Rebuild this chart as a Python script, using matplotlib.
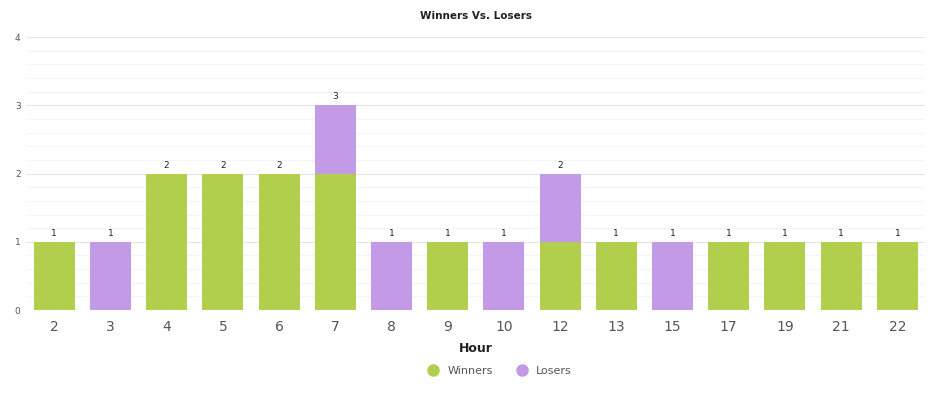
import matplotlib.pyplot as plt
import numpy as np
from matplotlib.lines import Line2D

hours = ["2", "3", "4", "5", "6", "7", "8", "9", "10", "12", "13", "15", "17", "19", "21", "22"]
winners = [1, 0, 2, 2, 2, 2, 0, 1, 0, 1, 1, 0, 1, 1, 1, 1]
losers = [0, 1, 0, 0, 0, 1, 1, 0, 1, 1, 0, 1, 0, 0, 0, 0]

green = "#b1cf4c"
purple = "#c39ae6"

fig = plt.figure(figsize=(9.32, 3.95), dpi=100)
ax = fig.add_axes([0.028, 0.215, 0.965, 0.691])

x = np.arange(len(hours))
ax.bar(x, winners, width=0.73, color=green, zorder=3)
ax.bar(x, losers, width=0.73, bottom=winners, color=purple, zorder=3)

totals = [w + l for w, l in zip(winners, losers)]
for xi, t in zip(x, totals):
    ax.text(xi, t + 0.06, str(t), ha="center", va="bottom", fontsize=6.5, color="#222222")

ax.set_xlim(-0.5, len(hours) - 0.5)
ax.set_ylim(0, 4)
ax.set_yticks([0, 1, 2, 3, 4])
ax.set_yticks(np.arange(0, 4.01, 0.2), minor=True)
ax.grid(axis="y", which="major", color="#e6e6e6", linewidth=0.8, zorder=0)
ax.grid(axis="y", which="minor", color="#f4f4f4", linewidth=0.8, zorder=0)
ax.tick_params(axis="y", which="both", length=0, labelsize=6.5, labelcolor="#555555", pad=4)
ax.tick_params(axis="x", length=0, labelsize=10, labelcolor="#555555", pad=7)
ax.set_xticks(x)
ax.set_xticklabels(hours)
for s in ax.spines.values():
    s.set_visible(False)

ax.set_xlabel("Hour", fontsize=9, fontweight="bold", color="#222222", labelpad=6)
ax.set_title("Winners Vs. Losers", fontsize=7.5, fontweight="bold", color="#222222", pad=13)

handles = [
    Line2D([], [], marker="o", linestyle="", markersize=8, color=green),
    Line2D([], [], marker="o", linestyle="", markersize=8, color=purple),
]
fig.legend(handles, ["Winners", "Losers"], loc="center", bbox_to_anchor=(0.533, 0.061),
           ncol=2, frameon=False, fontsize=8, labelcolor="#555555",
           handletextpad=0.3, columnspacing=1.6)

fig.savefig("out.png", dpi=100)
